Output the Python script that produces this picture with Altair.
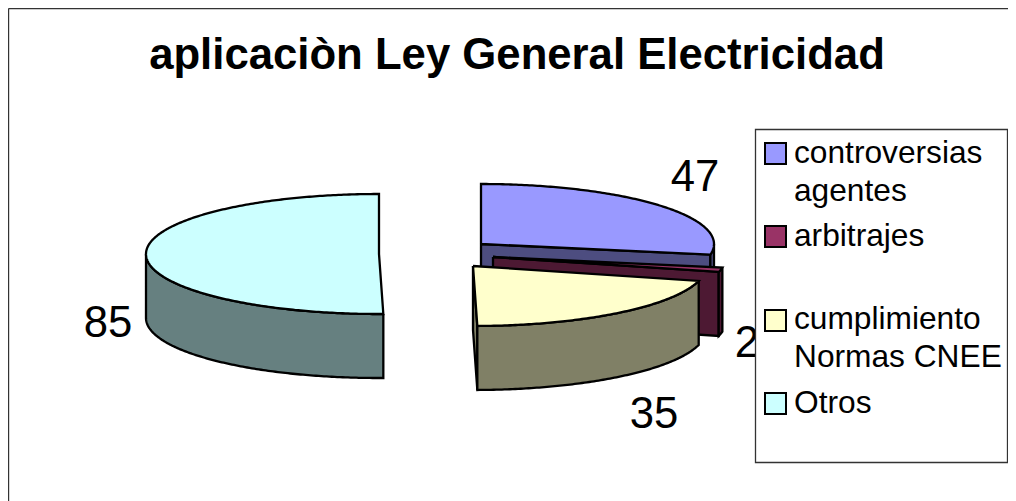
import math
import altair as alt
import pandas as pd

TITLE = "aplicaciòn Ley General Electricidad"
CATEGORIES = ["controversias agentes", "arbitrajes", "cumplimiento Normas CNEE", "Otros"]
VALUES = [47, 2, 35, 85]
TOP_COLORS = ["#9999FF", "#993366", "#FFFFCC", "#CCFFFF"]
SIDE_COLORS = ["#4D4D80", "#4D1933", "#808066", "#668080"]
LEGEND_LINES = [["controversias", "agentes"], ["arbitrajes"], ["cumplimiento", "Normas CNEE"], ["Otros"]]

# layout of the exploded 3-D pie, in page pixels
CENTRES = [(481, 244), (493, 257), (473, 266), (379, 254)]
RX, RY, DEPTH = 233, 60, 64
LABEL_POS = [(695, 178), (747, 344), (654, 415), (108, 324)]
SWATCH_TOP = [143, 226, 310, 393]
LEGEND_BASE = [[163, 201], [246], [329, 367], [413]]

X = alt.X("x:Q", scale=alt.Scale(domain=[8, 1008], range=[0, 1000]), axis=None)
Y = alt.Y("y:Q", scale=alt.Scale(domain=[8, 501], range=[0, 493]), axis=None)


def rim(c, a, dz=0):
    r = math.radians(a)
    return (c[0] + RX * math.sin(r), c[1] - RY * math.cos(r) + dz)


def arc(c, a0, a1, dz=0):
    n = max(2, int(abs(a1 - a0) * 1.5))
    return [rim(c, a0 + (a1 - a0) * i / n, dz) for i in range(n + 1)]


def polygon(points, fill, width=2.3):
    pts = list(points) + [points[0]]
    df = pd.DataFrame({"x": [p[0] for p in pts], "y": [p[1] for p in pts], "i": range(len(pts))})
    return alt.Chart(df).mark_line(fill=fill, stroke="black", strokeWidth=width, interpolate="linear").encode(
        x=X, y=Y, order="i:Q"
    )


def wall(c, a0, a1, fill):
    return polygon(arc(c, a0, a1) + arc(c, a1, a0, DEPTH), fill)


def cut_face(c, a, fill):
    p = rim(c, a)
    return polygon([c, p, (p[0], p[1] + DEPTH), (c[0], c[1] + DEPTH)], fill)


total = sum(VALUES)
angles = [0]
for v in VALUES:
    angles.append(angles[-1] + 360 * v / total)

layers = []
# controversias, arbitrajes, cumplimiento, Otros
for k in range(4):
    c, a0, a1 = CENTRES[k], angles[k], angles[k + 1]
    if a0 < 180:
        if a1 <= 180:
            layers.append(cut_face(c, a1, SIDE_COLORS[k]))
    lo, hi = max(a0, 90), min(a1, 270)
    if hi > lo:
        layers.append(wall(c, lo, hi, SIDE_COLORS[k]))
    layers.append(polygon([c] + arc(c, a0, a1), TOP_COLORS[k]))


def text(items, size, **kw):
    df = pd.DataFrame(items, columns=["x", "y", "t"])
    return alt.Chart(df).mark_text(font="Liberation Sans", fontSize=size, color="black", **kw).encode(
        x=X, y=Y, text="t:N"
    )


layers.append(text([(x, y, str(v)) for (x, y), v in zip(LABEL_POS, VALUES)], 43.7, align="center", baseline="middle"))
layers.append(text([(517, 69, TITLE)], 43.7, align="center", baseline="alphabetic", fontWeight="bold"))

# frame
for fx, fy, fx2, fy2 in [(8.5, 8.5, 8.5, 501), (8.5, 8.5, 1008, 8.5)]:
    frame = pd.DataFrame({"x": [fx], "y": [fy], "x2": [fx2], "y2": [fy2]})
    layers.append(
        alt.Chart(frame).mark_rule(color="#333333", strokeWidth=1.4).encode(x=X, y=Y, x2="x2:Q", y2="y2:Q")
    )

# legend
box = pd.DataFrame({"x": [755.5], "x2": [1007.5], "y": [129.5], "y2": [462.5]})
layers.append(
    alt.Chart(box).mark_rect(fill="white", stroke="#333333", strokeWidth=1.3).encode(x=X, y=Y, x2="x2:Q", y2="y2:Q")
)
for top, col in zip(SWATCH_TOP, TOP_COLORS):
    sw = pd.DataFrame({"x": [765], "x2": [786], "y": [top], "y2": [top + 21]})
    layers.append(
        alt.Chart(sw).mark_rect(fill=col, stroke="black", strokeWidth=2).encode(x=X, y=Y, x2="x2:Q", y2="y2:Q")
    )
rows = [(794, b, t) for bases, lines in zip(LEGEND_BASE, LEGEND_LINES) for b, t in zip(bases, lines)]
layers.append(text(rows, 31.7, align="left", baseline="alphabetic"))

chart = (
    alt.layer(*layers)
    .properties(width=1000, height=493, padding=0, autosize=alt.AutoSizeParams(type="none"))
    .configure_view(stroke=None)
)
chart.save("out.html", embed_options={"renderer": "svg", "actions": False})
